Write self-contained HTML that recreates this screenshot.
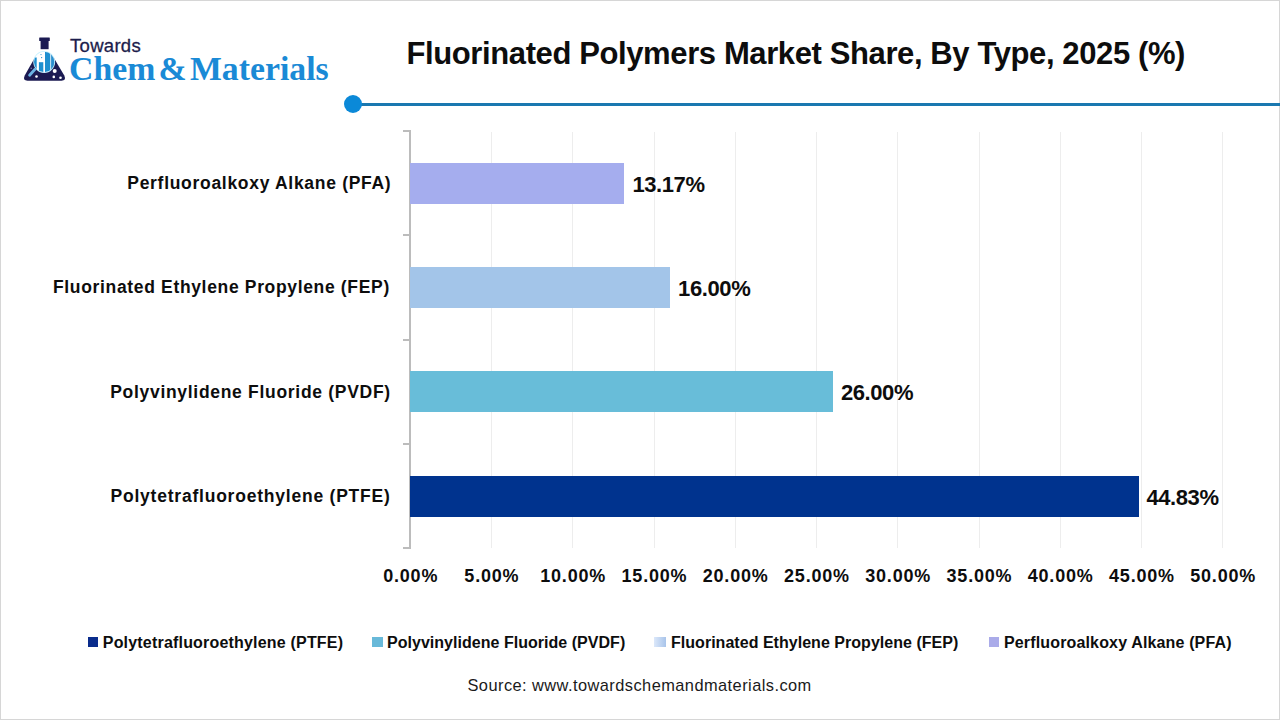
<!DOCTYPE html>
<html><head><meta charset="utf-8">
<style>
html,body{margin:0;padding:0;}
body{width:1280px;height:720px;position:relative;overflow:hidden;background:#fff;font-family:"Liberation Sans",sans-serif;}
.frame{position:absolute;left:0;top:0;width:1278px;height:718px;border:1px solid #d6d6d6;}
.t{position:absolute;white-space:nowrap;line-height:1;transform-origin:0 0;}
.b{font-weight:bold;color:#0d0d0d;}
.bar{position:absolute;left:410px;height:41px;}
.grid{position:absolute;top:131.5px;height:416px;width:1px;background:#ededed;}
.tick{position:absolute;left:403px;width:8px;height:2px;background:#bcbcbc;}
.xl{top:567px;width:120px;text-align:center;font-size:18px;letter-spacing:0.8px;}
.sq{position:absolute;width:10px;height:10px;top:637px;}
</style></head>
<body>
<div class="frame"></div>

<!-- logo -->
<svg style="position:absolute;left:0;top:0" width="80" height="90" viewBox="0 0 80 90">
  <defs><clipPath id="cc"><circle cx="44.2" cy="62" r="10.2"/></clipPath></defs>
  <path d="M35.2 57 L53.3 57 L64.3 75.5 Q66.5 80.7 61.5 80.7 L27.5 80.7 Q22.5 80.7 24.7 75.5 Z" fill="#1b1a52"/>
  <rect x="39.2" y="37.5" width="10.6" height="3.5" rx="0.5" fill="#1b1a52"/>
  <rect x="40.6" y="40.5" width="8" height="8.7" fill="#1b1a52"/>
  <circle cx="44.2" cy="62" r="10.9" fill="#c8f2ff"/>
  <circle cx="44.2" cy="62" r="10.2" fill="#ffffff"/>
  <g clip-path="url(#cc)">
    <rect x="33.6" y="57.5" width="3.1" height="16" fill="#1e8fd0"/>
    <rect x="38.9" y="62.2" width="4.4" height="12" fill="#1e8fd0"/>
    <rect x="45" y="52" width="5.3" height="22" fill="#1e8fd0"/>
    <rect x="51.1" y="51" width="5" height="22" fill="#2a8fcf"/>
    <circle cx="41" cy="54.6" r="0.6" fill="#2a8fcf"/>
    <circle cx="41.6" cy="57.6" r="0.7" fill="#2a8fcf"/>
  </g>
  <path d="M35 69.3 L29.6 75.3" stroke="#6cb4e4" stroke-width="2.8" stroke-linecap="round"/>
  <circle cx="54.7" cy="71" r="2" fill="#fff"/>
  <circle cx="36.5" cy="76.5" r="1.3" fill="#fff"/>
  <circle cx="53.8" cy="76.9" r="1.3" fill="#fff"/>
  <circle cx="60.5" cy="77.7" r="1.3" fill="#fff"/>
  <circle cx="31.2" cy="68.3" r="0.7" fill="#8a8ac0"/>
</svg>
<div class="t m" id="towards" style="left:70px;top:36.5px;font-size:18.5px;letter-spacing:0.3px;color:#1c1d4c;-webkit-text-stroke:0.3px #1c1d4c;">Towards</div>
<div class="t m" id="chem" style="left:69px;top:50.8px;font-size:34.5px;word-spacing:-5.3px;transform:scaleX(0.979);font-family:'Liberation Serif',serif;font-weight:bold;color:#1a8ad6;">Chem &amp; Materials</div>

<!-- title -->
<div class="t b m" id="title" style="left:406.5px;top:38px;font-size:31px;letter-spacing:-0.39px;">Fluorinated Polymers Market Share, By Type, 2025 (%)</div>

<!-- accent line -->
<div style="position:absolute;left:353px;top:103px;width:927px;height:2.8px;background:#1a78b0;"></div>
<div style="position:absolute;left:344.1px;top:94.7px;width:18.4px;height:18.4px;border-radius:50%;background:#0b89d8;"></div>

<!-- gridlines -->
<div class="grid" style="left:491px"></div>
<div class="grid" style="left:572px"></div>
<div class="grid" style="left:654px"></div>
<div class="grid" style="left:735px"></div>
<div class="grid" style="left:816px"></div>
<div class="grid" style="left:897px"></div>
<div class="grid" style="left:979px"></div>
<div class="grid" style="left:1060px"></div>
<div class="grid" style="left:1141px"></div>
<div class="grid" style="left:1222px"></div>

<!-- axis -->
<div style="position:absolute;left:409px;top:130.4px;width:2px;height:418.4px;background:#bcbcbc;"></div>
<div class="tick" style="top:130px"></div>
<div class="tick" style="top:234px"></div>
<div class="tick" style="top:339px"></div>
<div class="tick" style="top:443px"></div>
<div class="tick" style="top:546.8px"></div>

<!-- bars -->
<div class="bar" style="top:163px;width:214px;background:#a5adee;"></div>
<div class="bar" style="top:267px;width:260px;background:#a3c5e9;"></div>
<div class="bar" style="top:371px;width:423px;background:#68bdd9;"></div>
<div class="bar" style="top:476px;width:729px;background:#00338e;"></div>

<!-- category labels -->
<div class="t b m" style="left:127.3px;top:175px;font-size:17.5px;letter-spacing:0.7px;">Perfluoroalkoxy Alkane (PFA)</div>
<div class="t b m" style="left:53px;top:278.8px;font-size:17.5px;letter-spacing:0.66px;">Fluorinated Ethylene Propylene (FEP)</div>
<div class="t b m" style="left:110.2px;top:383.9px;font-size:17.5px;letter-spacing:0.7px;">Polyvinylidene Fluoride (PVDF)</div>
<div class="t b m" style="left:110.5px;top:487.9px;font-size:17.5px;letter-spacing:0.78px;">Polytetrafluoroethylene (PTFE)</div>

<!-- data labels -->
<div class="t b m" style="left:632.4px;top:173.5px;font-size:22px;letter-spacing:-0.4px;">13.17%</div>
<div class="t b m" style="left:678.1px;top:277.5px;font-size:22px;letter-spacing:-0.4px;">16.00%</div>
<div class="t b m" style="left:840.9px;top:382px;font-size:22px;letter-spacing:-0.4px;">26.00%</div>
<div class="t b m" style="left:1146.4px;top:487px;font-size:22px;letter-spacing:-0.4px;">44.83%</div>

<!-- x labels -->
<div class="t b m xl" style="left:350.7px;">0.00%</div>
<div class="t b m xl" style="left:431.9px;">5.00%</div>
<div class="t b m xl" style="left:513.2px;">10.00%</div>
<div class="t b m xl" style="left:594.5px;">15.00%</div>
<div class="t b m xl" style="left:675.7px;">20.00%</div>
<div class="t b m xl" style="left:757.0px;">25.00%</div>
<div class="t b m xl" style="left:838.2px;">30.00%</div>
<div class="t b m xl" style="left:919.5px;">35.00%</div>
<div class="t b m xl" style="left:1000.7px;">40.00%</div>
<div class="t b m xl" style="left:1082.0px;">45.00%</div>
<div class="t b m xl" style="left:1163.2px;">50.00%</div>


<!-- legend -->
<div class="sq" style="left:88px;background:#0a2c8c;"></div>
<div class="t b m" style="left:102.8px;top:635px;font-size:16px;letter-spacing:0.19px;">Polytetrafluoroethylene (PTFE)</div>
<div class="sq" style="left:372px;width:11px;background:#68b9d9;"></div>
<div class="t b m" style="left:387px;top:635px;font-size:16px;letter-spacing:0.03px;">Polyvinylidene Fluoride (PVDF)</div>
<div class="sq" style="left:653.5px;width:12.5px;background:linear-gradient(90deg,#dce8fa,#a8c4ea);"></div>
<div class="t b m" style="left:671px;top:635px;font-size:16px;letter-spacing:0.03px;">Fluorinated Ethylene Propylene (FEP)</div>
<div class="sq" style="left:989px;background:#aaabe9;"></div>
<div class="t b m" style="left:1004px;top:635px;font-size:16px;letter-spacing:0.15px;">Perfluoroalkoxy Alkane (PFA)</div>

<div class="t m" style="left:467.5px;top:676.5px;font-size:16.4px;letter-spacing:0.44px;color:#1a1a1a;">Source: www.towardschemandmaterials.com</div>
</body></html>
